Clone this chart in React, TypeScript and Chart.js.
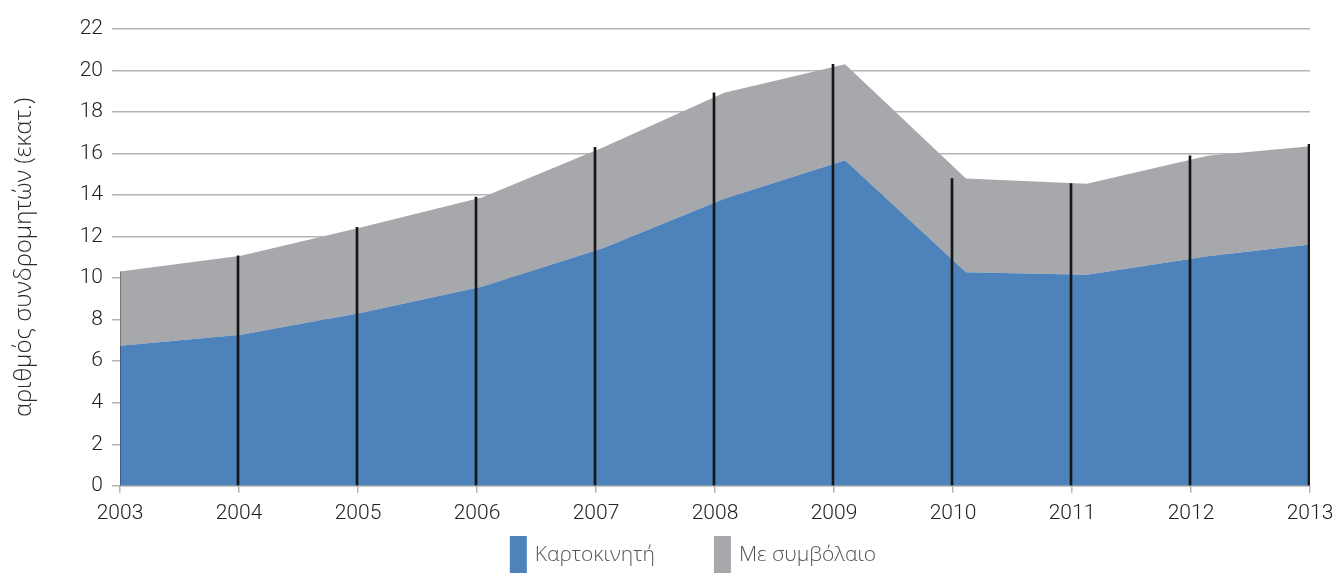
import React, { useEffect, useRef } from 'react';
import { Chart, registerables } from 'chart.js';

Chart.register(...registerables);

// ---- data ----
const years = [2003, 2004, 2005, 2006, 2007, 2008, 2009, 2010, 2011, 2012, 2013];
const yearLabels = years.map(String);
const prepaid = [6.75, 7.27, 8.33, 9.6, 11.45, 13.83, 15.68, 10.29, 10.16, 11.05, 11.73];
const contract = [3.57, 3.81, 4.12, 4.3, 4.85, 5.1, 4.62, 4.51, 4.39, 4.84, 4.71];
const seriesNames = ['Καρτοκινητή', 'Με συμβόλαιο'];
const yTitle = 'αριθμός συνδρομητών (εκατ.)';
const yMin = 0;
const yMax = 22;
const yStep = 2;

// ---- style ----
const BLUE = '#4d82bb';
const GRAY = '#a7a8ab';
const DROP = '#161616';
const GRID = '#b4b4b4';
const TICK_FONT = 'Roboto, "Noto Sans", sans-serif';
const TEXT_FONT = '"Open Sans", "Noto Sans", sans-serif';
// area points in the source are spaced slightly wider than the year categories
const AREA_STRETCH = 120.85 / 119;

const legendPlugin = {
  id: 'bottomLegend',
  afterDraw(chart: any) {
    const ctx = chart.ctx as CanvasRenderingContext2D;
    const items = chart.data.datasets.filter((d: any) => d.type === 'line');
    ctx.save();
    ctx.font = `300 21px ${TEXT_FONT}`;
    ctx.textBaseline = 'middle';
    ctx.textAlign = 'left';
    const boxW = 17;
    const boxH = 38;
    const textGap = 8;
    const itemGap = 59;
    const widths = items.map((d: any) => boxW + textGap + ctx.measureText(d.label).width);
    const total = widths.reduce((a: number, b: number) => a + b, 0) + itemGap * (items.length - 1);
    const center = (chart.chartArea.left + chart.chartArea.right) / 2 - 22;
    let x = center - total / 2;
    const top = 536;
    items.forEach((d: any, i: number) => {
      ctx.fillStyle = d.backgroundColor;
      ctx.fillRect(x, top, boxW, boxH);
      ctx.fillStyle = '#555555';
      ctx.fillText(d.label, x + boxW + textGap, top + 19);
      x += widths[i] + itemGap;
    });
    ctx.restore();
  },
};

export default function App() {
  const ref = useRef<HTMLCanvasElement>(null);

  useEffect(() => {
    const totals = prepaid.map((v, i) => v + contract[i]);
    const chart = new Chart(ref.current as HTMLCanvasElement, {
      type: 'line',
      data: {
        labels: yearLabels,
        datasets: [
          {
            type: 'bar',
            label: 'drop',
            data: totals,
            xAxisID: 'x',
            yAxisID: 'y',
            stack: 'drop',
            backgroundColor: DROP,
            barThickness: 2,
          } as any,
          {
            type: 'line',
            label: seriesNames[0],
            data: years.map((yr, i) => ({ x: yr, y: prepaid[i] })),
            xAxisID: 'xArea',
            yAxisID: 'y',
            fill: 'origin',
            backgroundColor: BLUE,
            borderColor: 'rgba(0,0,0,0)',
            borderWidth: 0,
            pointRadius: 0,
            tension: 0,
          },
          {
            type: 'line',
            label: seriesNames[1],
            data: years.map((yr, i) => ({ x: yr, y: contract[i] })),
            xAxisID: 'xArea',
            yAxisID: 'y',
            fill: '-1',
            backgroundColor: GRAY,
            borderColor: 'rgba(0,0,0,0)',
            borderWidth: 0,
            pointRadius: 0,
            tension: 0,
          },
        ],
      },
      options: {
        responsive: false,
        animation: false,
        layout: { padding: { top: 29, right: 23, bottom: 39, left: 0 } },
        plugins: {
          legend: { display: false },
          tooltip: { enabled: false },
        },
        scales: {
          x: {
            type: 'category',
            offset: false,
            grid: {
              display: true,
              offset: false,
              drawOnChartArea: false,
              drawTicks: true,
              tickLength: 7,
              color: GRID,
              lineWidth: 1.5,
            },
            border: { display: true, color: GRID, width: 1.5 },
            ticks: {
              font: { family: TICK_FONT, size: 21, weight: '300' as any },
              color: '#222222',
              padding: 8,
              maxRotation: 0,
              autoSkip: false,
            },
            afterFit: (scale: any) => {
              scale.paddingLeft = 0;
              scale.paddingRight = 0;
            },
          },
          xArea: {
            type: 'linear',
            display: false,
            min: years[0],
            max: years[0] + (years[years.length - 1] - years[0]) / AREA_STRETCH,
          },
          y: {
            type: 'linear',
            stacked: true,
            min: yMin,
            max: yMax,
            ticks: {
              stepSize: yStep,
              font: { family: TICK_FONT, size: 21, weight: '300' as any },
              color: '#222222',
              padding: 9,
            },
            grid: {
              color: GRID,
              lineWidth: 1.5,
              drawTicks: true,
              tickLength: 8,
            },
            border: { display: false },
            title: {
              display: true,
              text: yTitle,
              font: { family: TEXT_FONT, size: 24, weight: '300' as any },
              color: '#2a2a2a',
              padding: { top: 10, bottom: 0 },
            },
            afterFit: (scale: any) => {
              scale.width = 120;
            },
          },
        },
      } as any,
      plugins: [legendPlugin],
    });
    return () => chart.destroy();
  }, []);

  return (
    <canvas
      ref={ref}
      width={1333}
      height={573}
      style={{ position: 'absolute', left: 0, top: 0, display: 'block' }}
    />
  );
}
